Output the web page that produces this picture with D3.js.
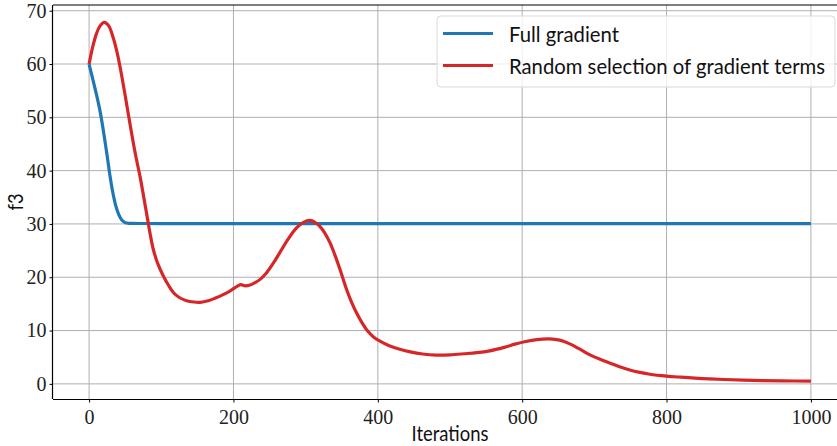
<!DOCTYPE html>
<html>
<head>
<meta charset="utf-8">
<script src="https://cdn.jsdelivr.net/npm/d3@7/dist/d3.min.js"></script>
<style>
  html, body { margin: 0; padding: 0; background: #fff; }
  svg { display: block; }
</style>
</head>
<body>
<svg id="chart" width="837" height="446"></svg>
<script>
const seriesNames = ["Full gradient", "Random selection of gradient terms"];
const seriesColors = ["#1f77b4", "#d62728"];

const fullX = [0, 5, 10, 15, 20, 25, 29, 33, 37, 41, 45, 50, 55, 60, 70, 100, 200, 400, 600, 800, 1000];
const fullY = [60, 57.2, 54.4, 51.3, 47.3, 42.8, 39.0, 35.8, 33.4, 31.8, 30.8, 30.25, 30.12, 30.1, 30.08, 30.06, 30.05, 30.05, 30.05, 30.05, 30.05];

const randX = [0, 5, 10, 15, 21, 27, 33, 38, 43, 50, 57, 64, 71, 76, 81, 85, 89, 95, 103, 110, 117, 125, 135, 145, 154, 165, 175, 185, 195, 205, 210, 216, 222, 230, 237, 245, 255, 265, 275, 287, 297, 306, 313, 320, 327, 334, 341, 348, 357, 364, 371, 378, 386, 394, 403, 415, 428, 445, 462, 481, 500, 520, 537, 555, 575, 590, 605, 620, 638, 652, 666, 680, 694, 708, 722, 735, 749, 763, 777, 800, 820, 850, 880, 920, 960, 1000];
const randY = [60, 63.2, 65.6, 67.1, 67.8, 67.2, 65.1, 62.6, 59.4, 54.1, 48.5, 43.2, 38.6, 34.8, 30.9, 27.8, 25.2, 22.6, 20.2, 18.5, 17.1, 16.2, 15.6, 15.35, 15.3, 15.6, 16.1, 16.7, 17.4, 18.3, 18.6, 18.4, 18.5, 19.0, 19.6, 20.7, 22.6, 24.8, 27.0, 29.2, 30.3, 30.65, 30.3, 29.5, 28.2, 26.4, 24.0, 21.3, 17.6, 15.2, 13.2, 11.5, 9.9, 8.8, 8.0, 7.2, 6.6, 6.0, 5.6, 5.4, 5.45, 5.65, 5.85, 6.2, 6.85, 7.45, 7.95, 8.3, 8.44, 8.2, 7.5, 6.5, 5.44, 4.6, 3.87, 3.2, 2.6, 2.15, 1.8, 1.45, 1.25, 1.0, 0.82, 0.66, 0.56, 0.5];

const xTicks = [0, 200, 400, 600, 800, 1000];
const yTicks = [0, 10, 20, 30, 40, 50, 60, 70];
const xLabel = "Iterations";
const yLabel = "f3";

const svg = d3.select("#chart");
const pL = 53, pR = 847, pT = 5, pB = 399;

const x = d3.scaleLinear().domain([-50, 1050]).range([pL, pR]);
const y = d3.scaleLinear().domain([-2.84, 71.07]).range([pB, pT]);

const serif = "'Liberation Serif', 'DejaVu Serif', serif";
const sans = "Lato, 'Open Sans', sans-serif";

// grid
const grid = svg.append("g");
grid.selectAll("line.gx").data(xTicks).enter().append("line")
  .attr("x1", d => x(d)).attr("x2", d => x(d))
  .attr("y1", pT).attr("y2", pB)
  .attr("stroke", "#b0b0b0").attr("stroke-width", 1);
grid.selectAll("line.gy").data(yTicks).enter().append("line")
  .attr("y1", d => y(d)).attr("y2", d => y(d))
  .attr("x1", pL).attr("x2", pR)
  .attr("stroke", "#b0b0b0").attr("stroke-width", 1);

// lines
const line = d3.line().x(d => x(d[0])).y(d => y(d[1])).curve(d3.curveCatmullRom.alpha(0.5));
const data = [
  d3.zip(fullX, fullY),
  d3.zip(randX, randY)
];
svg.append("g").selectAll("path").data(data).enter().append("path")
  .attr("d", line)
  .attr("fill", "none")
  .attr("stroke", (d, i) => seriesColors[i])
  .attr("stroke-width", 3.2)
  .attr("stroke-linejoin", "round")
  .attr("stroke-linecap", "butt");

// axes
const xAxis = d3.axisBottom(x).tickValues(xTicks).tickSize(3.5).tickPadding(4).tickFormat(d3.format("d"));
const yAxis = d3.axisLeft(y).tickValues(yTicks).tickSize(3.5).tickPadding(3).tickFormat(d3.format("d"));

const gx = svg.append("g").attr("transform", `translate(0,${pB})`).call(xAxis);
const gy = svg.append("g").attr("transform", `translate(${pL},0)`).call(yAxis);
[gx, gy].forEach(g => {
  g.select(".domain").attr("stroke", "#000").attr("stroke-width", 1.2);
  g.selectAll(".tick line").attr("stroke", "#000").attr("stroke-width", 1);
  g.selectAll(".tick text").attr("font-family", serif).attr("font-size", 20).attr("fill", "#222");
});
gx.select(".domain").attr("d", `M${pL},0.5H${pR}`);
gy.select(".domain").attr("d", `M-0.5,${pT}V${pB}`);
gx.selectAll(".tick text").attr("dy", "0.85em");

// top spine
svg.append("line").attr("x1", pL).attr("x2", pR).attr("y1", pT).attr("y2", pT)
  .attr("stroke", "#000").attr("stroke-width", 1.2);

// axis labels
svg.append("text").attr("x", 450).attr("y", 440.5)
  .attr("text-anchor", "middle").attr("font-family", sans).attr("font-size", 21)
  .attr("textLength", 77).attr("lengthAdjust", "spacingAndGlyphs")
  .attr("fill", "#111").text(xLabel);
svg.append("text").attr("transform", `translate(23,${(pT + pB) / 2}) rotate(-90)`)
  .attr("text-anchor", "middle").attr("font-family", sans).attr("font-size", 21)
  .attr("textLength", 17).attr("lengthAdjust", "spacingAndGlyphs")
  .attr("fill", "#111").text(yLabel);

// legend
const lg = svg.append("g");
lg.append("rect").attr("x", 437).attr("y", 16).attr("width", 398).attr("height", 71)
  .attr("rx", 4).attr("fill", "#fff").attr("fill-opacity", 0.8)
  .attr("stroke", "#d9d9d9").attr("stroke-width", 1);
const legendWidths = [110, 316];
seriesNames.forEach((name, i) => {
  const yy = 33.5 + i * 32;
  lg.append("line").attr("x1", 443).attr("x2", 493).attr("y1", yy).attr("y2", yy)
    .attr("stroke", seriesColors[i]).attr("stroke-width", 3.2);
  lg.append("text").attr("x", 509).attr("y", yy + 8)
    .attr("font-family", sans).attr("font-size", 20.5)
    .attr("textLength", legendWidths[i]).attr("lengthAdjust", "spacingAndGlyphs")
    .attr("fill", "#111").text(name);
});
</script>
</body>
</html>
